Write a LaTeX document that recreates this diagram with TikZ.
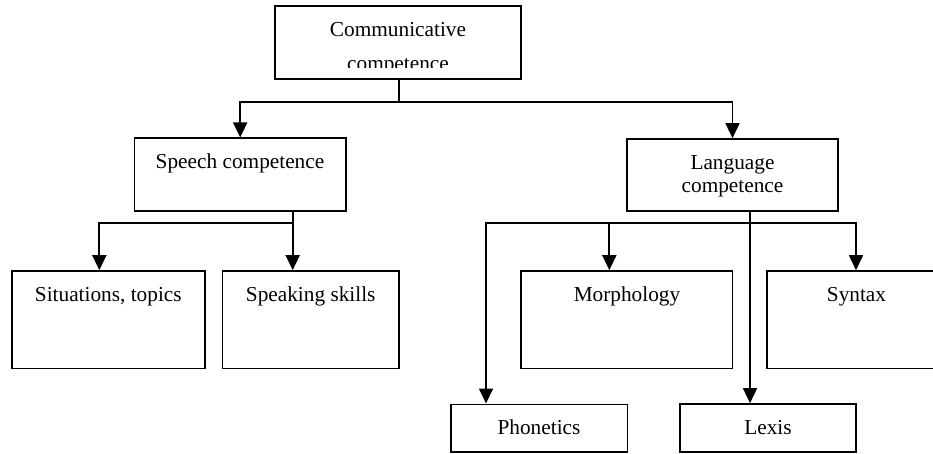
\documentclass[tikz,border=0pt]{standalone}
\usepackage{fontspec}
\setmainfont{Liberation Serif}
\usetikzlibrary{arrows.meta}
\begin{document}
\begin{tikzpicture}[x=1pt,y=-1pt,line width=1.7pt,
  box/.style={draw, rectangle, inner sep=0pt, line width=1.7pt},
  lbl/.style={anchor=base, inner sep=0pt, font=\fontsize{21.3}{24}\selectfont},
  arr/.style={-{Triangle[length=15pt,width=14pt]}}]
\useasboundingbox (0,0) rectangle (933,453);
\clip (0,0) rectangle (933,453);
% boxes
\node[box, minimum width=246pt, minimum height=73pt] (top) at (397.7,42.2) {};
\node[box, minimum width=211.7pt, minimum height=72.4pt] (speech) at (240.2,174.5) {};
\node[box, minimum width=211.6pt, minimum height=72.2pt] (lang) at (732.5,175.1) {};
\node[box, minimum width=193.3pt, minimum height=97.3pt] (sit) at (108.3,319.7) {};
\node[box, minimum width=176.7pt, minimum height=97.3pt] (speak) at (310.7,319.7) {};
\node[box, minimum width=211.2pt, minimum height=97.3pt] (morph) at (626.9,319.7) {};
\node[box, minimum width=177.4pt, minimum height=97.3pt] (syntax) at (856,319.7) {};
\node[box, minimum width=176.3pt, minimum height=47.7pt] (phon) at (539.2,428.2) {};
\node[box, minimum width=176pt, minimum height=48pt] (lexis) at (768,428) {};
% labels
\node[lbl] (tA) at (398,36) {Communicative};
\begin{scope}
  \clip (276,0) rectangle (520,67);
  \node[lbl] (tB) at (398,70.5) {competence};
\end{scope}
\node[lbl] (spL) at (240,168.3) {Speech competence};
\node[lbl] (lgA) at (732.5,169) {Language};
\node[lbl] (lgB) at (732.5,192.3) {competence};
\node[lbl] (siL) at (108.3,301.7) {Situations, topics};
\node[lbl] (skL) at (310.7,301.7) {Speaking skills};
\node[lbl] (moL) at (627,301.7) {Morphology};
\node[lbl] (syL) at (856.5,301.7) {Syntax};
\node[lbl] (phL) at (539,434) {Phonetics};
\node[lbl] (lxL) at (768,434) {Lexis};
% junction coordinates
\coordinate (hA) at (398.7,102);
\coordinate (s2) at (292.7,223);
\coordinate (s1) at (99.3,223);
\coordinate (l0) at (750,223);
\coordinate (lL) at (486,223);
\coordinate (lM) at (609.3,223);
% connectors
\draw (top.south -| hA) -- (hA);
\draw[arr] (hA) -| (speech.north);
\draw[arr] (hA) -| (lang.north);
\draw (speech.south -| s2) -- (s2);
\draw[arr] (s2) -- (s2 |- speak.north);
\draw[arr] (s2) -| (s1 |- sit.north);
\draw[arr] (lang.south -| l0) -- (l0 |- lexis.north);
\draw[arr] (l0) -| (syntax.north);
\draw[arr] (l0) -| (lL |- phon.north);
\draw[arr] (lM) -- (lM |- morph.north);
\end{tikzpicture}
\end{document}
